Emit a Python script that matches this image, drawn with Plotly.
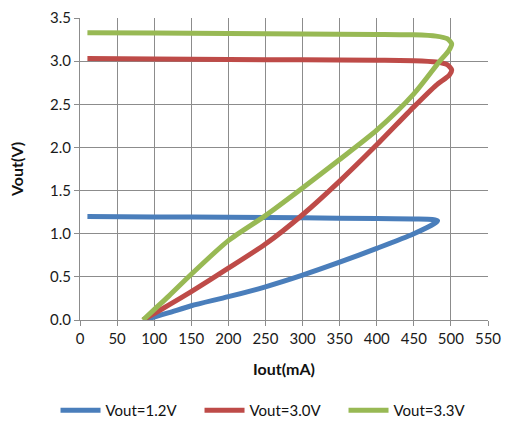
import plotly.graph_objects as go

# Vout = 1.2 V: upper branch (left->right) then foldback branch (right->left)
iout_12 = [10, 100, 200, 300, 400, 450, 475, 482, 478, 450, 400, 350, 300, 250, 200, 150, 120, 100, 86]
vout_12 = [1.20, 1.195, 1.19, 1.185, 1.175, 1.17, 1.165, 1.15, 1.12, 1.00, 0.83, 0.67, 0.52, 0.385, 0.27, 0.165, 0.085, 0.035, 0.0]

iout_30 = [10, 100, 200, 300, 400, 450, 480, 495, 501, 498, 480, 450, 400, 350, 300, 250, 200, 150, 120, 100, 85]
vout_30 = [3.03, 3.025, 3.02, 3.015, 3.01, 3.005, 2.99, 2.96, 2.90, 2.84, 2.72, 2.47, 2.03, 1.61, 1.22, 0.88, 0.60, 0.33, 0.175, 0.075, 0.0]

iout_33 = [10, 100, 200, 300, 400, 450, 480, 495, 501, 497, 485, 450, 400, 350, 300, 250, 200, 150, 120, 100, 85]
vout_33 = [3.33, 3.325, 3.32, 3.315, 3.31, 3.305, 3.29, 3.26, 3.20, 3.12, 3.00, 2.62, 2.20, 1.86, 1.53, 1.21, 0.92, 0.53, 0.28, 0.12, 0.0]

x_ticks = [0, 50, 100, 150, 200, 250, 300, 350, 400, 450, 500, 550]
y_ticks = [0.0, 0.5, 1.0, 1.5, 2.0, 2.5, 3.0, 3.5]

series = [
    ("Vout=1.2V", iout_12, vout_12, "#4A7EBB"),
    ("Vout=3.0V", iout_30, vout_30, "#BE4B48"),
    ("Vout=3.3V", iout_33, vout_33, "#98B954"),
]

FONT = "Lato, Liberation Sans, Arial"

fig = go.Figure()
for name, xs, ys, col in series:
    fig.add_trace(go.Scatter(
        x=xs, y=ys, name=name, mode="lines",
        line=dict(color=col, width=5, shape="spline", smoothing=0.7),
    ))

axis_common = dict(
    showgrid=True, gridcolor="#8C8C8C", gridwidth=1,
    showline=True, linecolor="#8C8C8C", linewidth=1,
    ticks="outside", ticklen=5, tickcolor="#8C8C8C",
    zeroline=False, mirror=False, automargin=False,
    tickfont=dict(family=FONT, size=15, color="#1a1a1a"),
)

fig.update_layout(
    width=505, height=421,
    margin=dict(l=80, r=17, t=18, b=101, autoexpand=False),
    paper_bgcolor="white", plot_bgcolor="white",
    xaxis=dict(range=[0, 550], tickvals=x_ticks, ticktext=[str(v) for v in x_ticks],
               title=dict(text="<b>Iout(mA)</b>", font=dict(family=FONT, size=16, color="#111"), standoff=17),
               **axis_common),
    yaxis=dict(range=[0, 3.5], tickvals=y_ticks, ticktext=[f"{v:.1f}" for v in y_ticks],
               title=dict(text="<b>Vout(V)</b>", font=dict(family=FONT, size=16, color="#111"), standoff=22),
               **axis_common),
    showlegend=True,
    legend=dict(orientation="h", x=-0.06, xanchor="left", y=-0.30, yanchor="middle",
                font=dict(family=FONT, size=15, color="#111"),
                itemwidth=40, tracegroupgap=0, entrywidth=89, entrywidthmode="pixels"),
)

fig.write_html(
    "out.html",
    config={"displayModeBar": False},
    post_script="document.body.style.margin='0';document.body.style.overflow='hidden';",
)
